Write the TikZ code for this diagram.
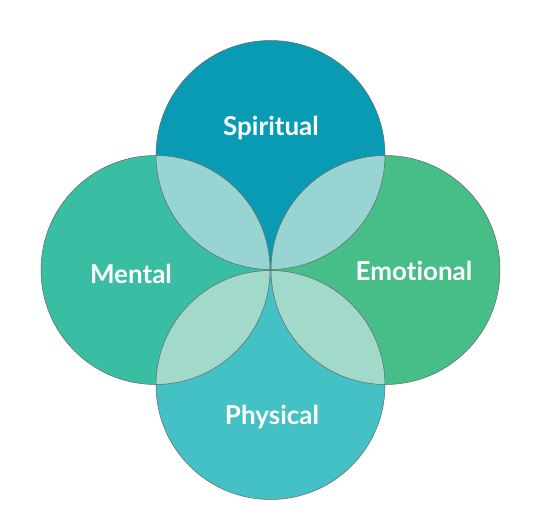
\documentclass[tikz,border=0pt]{standalone}
\usepackage{fontspec}
\setmainfont{Lato}[Ligatures={NoCommon,NoDiscretionary}]
\usepackage{tikz}
\usetikzlibrary{positioning}
\definecolor{spiritcol}{HTML}{089BB3}
\definecolor{mentalcol}{HTML}{39BDA3}
\definecolor{emotecol}{HTML}{47BD88}
\definecolor{physcol}{HTML}{43C1C5}
\definecolor{lapupper}{HTML}{98D5D2}
\definecolor{laplower}{HTML}{A1D9CA}
\begin{document}
\begin{tikzpicture}[
  x=1pt, y=1pt,
  ring/.style={draw=black!60, line width=0.5pt},
  label/.style={text=white, font=\bfseries\fontsize{26}{30}\selectfont},
]
\useasboundingbox (-270.5,-249) rectangle (269.5,270);
% Centres of the four circles
\coordinate (cs) at (0,115);
\coordinate (cm) at (-115,0);
\coordinate (ce) at (115,0);
\coordinate (cp) at (0,-115);
\def\rad{114.5}

% Base fills
\fill[spiritcol] (cs) circle (\rad);
\fill[mentalcol] (cm) circle (\rad);
\fill[emotecol] (ce) circle (\rad);
\fill[physcol] (cp) circle (\rad);

% Overlaps
\begin{scope}
  \clip (cs) circle (\rad);
  \fill[lapupper] (cm) circle (\rad);
  \fill[lapupper] (ce) circle (\rad);
\end{scope}
\begin{scope}
  \clip (cp) circle (\rad);
  \fill[laplower] (cm) circle (\rad);
  \fill[laplower] (ce) circle (\rad);
\end{scope}

% Outlines
\foreach \c in {cs,cm,ce,cp}
  \draw[ring] (\c) circle (\rad);

% Labels
\node[label] (spiritual) at (0.5,142) {Spiritual};
\node[label] (mental) at (-139.5,-4) {Mental};
\node[label] (emotional) at (143.5,-1) {Emotional};
\node[label] (physical) at (1.5,-147) {Physical};
\end{tikzpicture}
\end{document}
